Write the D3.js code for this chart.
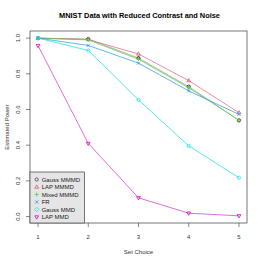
<!DOCTYPE html>
<html><head><meta charset="utf-8">
<script src="https://cdn.jsdelivr.net/npm/d3@7/dist/d3.min.js"></script>
<style>body{margin:0;background:#fff}svg{display:block}text{font-family:"Liberation Sans",Arial,sans-serif}</style>
</head><body>
<script>
const sets = [1, 2, 3, 4, 5];
const seriesNames = ["Gauss MMMD", "LAP MMMD", "Mixed MMMD", "FR", "Gauss MMD", "LAP MMD"];
const gaussMMMD = [1.0, 0.995, 0.888, 0.728, 0.539];
const lapMMMD   = [1.0, 0.992, 0.911, 0.762, 0.582];
const mixedMMMD = [1.0, 0.990, 0.882, 0.722, 0.540];
const fr        = [1.0, 0.959, 0.860, 0.704, 0.573];
const gaussMMD  = [1.0, 0.931, 0.654, 0.396, 0.218];
const lapMMD    = [0.958, 0.410, 0.105, 0.019, 0.004];
const yTicks = [0.0, 0.2, 0.4, 0.6, 0.8, 1.0];
const xTicks = [1, 2, 3, 4, 5];

const colors = ["#000000", "#DF536B", "#61D04F", "#2297E6", "#28E2E5", "#CD0BBC"];
const lineOpacity = [0.3, 0.65, 0.8, 0.7, 0.8, 0.6];
const plotSym = ["circle", "tri", "plus", "x", "circle", "tridown"];
const legSym  = ["circle", "tri", "plus", "x", "diamond", "tridown"];
const values = [gaussMMMD, lapMMMD, mixedMMMD, fr, gaussMMD, lapMMD];

const W = 263, H = 263;
const L = 30, R = 247, T = 31, B = 223;
const svg = d3.select("body").append("svg").attr("width", W).attr("height", H);

const x = d3.scaleLinear().domain([0.84, 5.16]).range([L, R]);
const y = d3.scaleLinear().domain([-0.036, 1.04]).range([B, T]);

function sym(g, type, cx, cy, col) {
  const sw = 0.8;
  if (type === "circle") g.append("circle").attr("cx", cx).attr("cy", cy).attr("r", 1.6).attr("fill", "none").attr("stroke", col).attr("stroke-width", sw);
  else if (type === "tri") g.append("path").attr("d", `M${cx},${cy-2.1}L${cx+1.9},${cy+1.2}L${cx-1.9},${cy+1.2}Z`).attr("fill", "none").attr("stroke", col).attr("stroke-width", sw);
  else if (type === "tridown") g.append("path").attr("d", `M${cx},${cy+2.1}L${cx+1.9},${cy-1.2}L${cx-1.9},${cy-1.2}Z`).attr("fill", "none").attr("stroke", col).attr("stroke-width", sw);
  else if (type === "plus") g.append("path").attr("d", `M${cx-2.2},${cy}H${cx+2.2}M${cx},${cy-2.2}V${cy+2.2}`).attr("stroke", col).attr("stroke-width", sw);
  else if (type === "x") g.append("path").attr("d", `M${cx-1.6},${cy-1.6}L${cx+1.6},${cy+1.6}M${cx-1.6},${cy+1.6}L${cx+1.6},${cy-1.6}`).attr("stroke", col).attr("stroke-width", sw);
  else if (type === "diamond") g.append("path").attr("d", `M${cx},${cy-2.2}L${cx+2.2},${cy}L${cx},${cy+2.2}L${cx-2.2},${cy}Z`).attr("fill", "none").attr("stroke", col).attr("stroke-width", sw);
}

// title
svg.append("text").attr("x", (L + R) / 2 + 1).attr("y", 18).attr("text-anchor", "middle")
  .attr("font-size", 7.4).attr("font-weight", "bold").text("MNIST Data with Reduced Contrast and Noise");

// series
const line = d3.line().x((d, i) => x(sets[i])).y(d => y(d));
values.forEach((vals, k) => {
  const g = svg.append("g");
  g.append("path").attr("d", line(vals)).attr("fill", "none").attr("stroke", colors[k])
    .attr("stroke-width", 1).attr("stroke-opacity", lineOpacity[k]);
  vals.forEach((v, i) => sym(g, plotSym[k], x(sets[i]), y(v), colors[k]));
});

// box
svg.append("rect").attr("x", L).attr("y", T).attr("width", R - L).attr("height", B - T)
  .attr("fill", "none").attr("stroke", "#555").attr("stroke-width", 0.8);

// axes
const ax = svg.append("g").attr("stroke", "#555").attr("stroke-width", 0.7);
xTicks.forEach(t => {
  ax.append("line").attr("x1", x(t)).attr("x2", x(t)).attr("y1", B).attr("y2", B + 4);
  svg.append("text").attr("x", x(t)).attr("y", B + 16).attr("text-anchor", "middle").attr("font-size", 6).attr("fill", "#333").text(t);
});
yTicks.forEach(t => {
  ax.append("line").attr("x1", L - 4).attr("x2", L).attr("y1", y(t)).attr("y2", y(t));
  svg.append("text").attr("transform", `translate(${L - 10},${y(t)}) rotate(-90)`).attr("text-anchor", "middle")
    .attr("font-size", 6).attr("fill", "#333").text(t.toFixed(1));
});
svg.append("text").attr("x", (L + R) / 2).attr("y", 254).attr("text-anchor", "middle").attr("font-size", 6).attr("fill", "#333").text("Set Choice");
svg.append("text").attr("transform", `translate(9,${(T + B) / 2}) rotate(-90)`).attr("text-anchor", "middle").attr("font-size", 6).attr("fill", "#333").text("Estimated Power");

// legend
const lg = svg.append("g");
lg.append("rect").attr("x", L).attr("y", 172).attr("width", 54.5).attr("height", B - 172)
  .attr("fill", "#E5E5E5").attr("stroke", "#555").attr("stroke-width", 0.8);
seriesNames.forEach((n, k) => {
  const cy = 179.5 + k * 7.5;
  sym(lg, legSym[k], 36.7, cy, k === 0 ? "#444" : colors[k]);
  lg.append("text").attr("x", 41.7).attr("y", cy + 2.1).attr("font-size", 6).attr("fill", "#222").text(n);
});
</script>
</body></html>
